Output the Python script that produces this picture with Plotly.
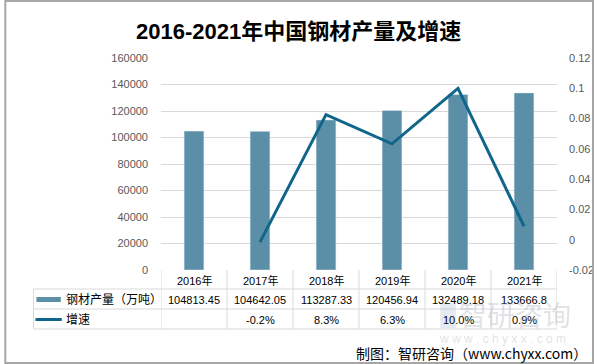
import plotly.graph_objects as go

# ---- data ----
years = ["2016年", "2017年", "2018年", "2019年", "2020年", "2021年"]
output = [104813.45, 104642.05, 113287.33, 120456.94, 132489.18, 133666.8]
output_text = ["104813.45", "104642.05", "113287.33", "120456.94", "132489.18", "133666.8"]
growth = [None, -0.0016, 0.0826, 0.0633, 0.0999, 0.0089]
growth_text = ["", "-0.2%", "8.3%", "6.3%", "10.0%", "0.9%"]
y2_ticks = [-0.02, 0, 0.02, 0.04, 0.06, 0.08, 0.10, 0.12]
y2_ticktext = ["-0.02", "0", "0.02", "0.04", "0.06", "0.08", "0.1", "0.12"]

W, H = 606, 364
L, R, T, B = 161, 568, 58, 270

BAR_C = "#5B8FA7"
LINE_C = "#10668A"
GRID_C = "#D9D9D9"
FONT = "Liberation Sans, Noto Sans CJK SC, sans-serif"


def px(x):
    return (x - L) / (R - L)


def py(y):
    return (B - y) / (B - T)


fig = go.Figure()
fig.add_trace(go.Bar(x=years, y=output, marker_color=BAR_C, width=0.3,
                     name="钢材产量（万吨）", yaxis="y"))
fig.add_trace(go.Scatter(x=years, y=growth, mode="lines", name="增速",
                         line=dict(color=LINE_C, width=3), yaxis="y2"))

shapes = []
ann = []

# table grid
line_style = dict(color=GRID_C, width=1)
for yy in [289, 309, 329]:
    shapes.append(dict(type="line", xref="paper", yref="paper",
                       x0=px(30), x1=px(R), y0=py(yy), y1=py(yy), line=line_style))
shapes.append(dict(type="line", xref="paper", yref="paper",
                   x0=px(30), x1=px(30), y0=py(289), y1=py(329), line=line_style))
for k in range(len(years) + 1):
    shapes.append(dict(type="line", xref="x", yref="paper",
                       x0=k - 0.5, x1=k - 0.5, y0=py(B), y1=py(329), line=line_style))

# legend keys in table
shapes.append(dict(type="rect", xref="paper", yref="paper",
                   x0=px(33), x1=px(58), y0=py(302), y1=py(297),
                   fillcolor=BAR_C, line=dict(width=0)))
shapes.append(dict(type="line", xref="paper", yref="paper",
                   x0=px(32), x1=px(59), y0=py(319.5), y1=py(319.5),
                   line=dict(color=LINE_C, width=3)))
ann.append(dict(text="钢材产量（万吨）", xref="paper", yref="paper", x=px(61), y=py(299.5),
                xanchor="left", yanchor="middle", showarrow=False,
                font=dict(size=12, color="#000000", family=FONT)))
ann.append(dict(text="增速", xref="paper", yref="paper", x=px(61), y=py(319.5),
                xanchor="left", yanchor="middle", showarrow=False,
                font=dict(size=12, color="#000000", family=FONT)))

for i, yr in enumerate(years):
    ann.append(dict(text=yr, xref="x", yref="paper", x=yr, y=py(280),
                    xanchor="center", yanchor="middle", showarrow=False,
                    font=dict(size=11, color="#000000", family=FONT)))
    ann.append(dict(text=output_text[i], xref="x", yref="paper", x=yr, y=py(299.5),
                    xanchor="center", yanchor="middle", showarrow=False,
                    font=dict(size=11, color="#000000", family=FONT)))
    if growth_text[i]:
        ann.append(dict(text=growth_text[i], xref="x", yref="paper", x=yr, y=py(319.5),
                        xanchor="center", yanchor="middle", showarrow=False,
                        font=dict(size=11, color="#000000", family=FONT)))

# watermark
shapes.append(dict(type="rect", xref="paper", yref="paper",
                   x0=px(448), x1=px(464), y0=py(328), y1=py(303),
                   fillcolor="rgba(120,150,185,0.20)", line=dict(width=0)))
ann.append(dict(text="智研咨询", xref="paper", yref="paper", x=px(525), y=py(314),
                xanchor="center", yanchor="middle", showarrow=False,
                font=dict(size=28, color="rgba(150,158,168,0.30)", family="Noto Sans CJK SC")))
ann.append(dict(text="w w w . c h y x x . c o m", xref="paper", yref="paper", x=px(512), y=py(339),
                xanchor="center", yanchor="middle", showarrow=False,
                font=dict(size=12, color="rgba(150,158,168,0.30)", family=FONT)))

# source
ann.append(dict(text="制图：智研咨询（www.chyxx.com）", xref="paper", yref="paper",
                x=px(601), y=py(353), xanchor="right", yanchor="middle", showarrow=False,
                font=dict(size=14, color="#000000", family="Noto Sans CJK SC, Liberation Sans")))

# title
ann.append(dict(text="<b>2016-2021年中国钢材产量及增速</b>", xref="paper", yref="paper",
                x=px(302), y=py(32), xanchor="center", yanchor="middle", showarrow=False,
                font=dict(size=22, color="#000000", family="Liberation Sans, Noto Sans CJK SC")))

# outer border
shapes.append(dict(type="rect", xref="paper", yref="paper",
                   x0=px(1), x1=px(W - 1), y0=py(1), y1=py(H - 1),
                   line=dict(color="#A6A6A6", width=2), fillcolor="rgba(0,0,0,0)"))

fig.update_layout(
    width=W, height=H,
    margin=dict(l=L, r=W - R, t=T, b=H - B, pad=0),
    paper_bgcolor="white", plot_bgcolor="white",
    showlegend=False,
    bargap=0.7,
    font=dict(family=FONT, color="#595959", size=11),
    xaxis=dict(type="category", range=[-0.5, 5.5], showticklabels=False,
               showgrid=False, zeroline=False, showline=False, ticks=""),
    yaxis=dict(range=[0, 160000], dtick=20000, showgrid=True, gridcolor=GRID_C,
               gridwidth=1, zeroline=False, showline=False, ticks="",
               tickfont=dict(size=11, color="#595959"), ticklabelstandoff=12,
               tickformat="d"),
    yaxis2=dict(range=[-0.02, 0.12], overlaying="y", side="right",
                tickvals=y2_ticks, ticktext=y2_ticktext, showgrid=False,
                zeroline=False, showline=False, ticks="",
                tickfont=dict(size=11, color="#595959"), ticklabelstandoff=11),
    shapes=shapes,
    annotations=ann,
)

fig.write_html("out.html", config={"displayModeBar": False},
               post_script="document.body.style.margin='0';document.body.style.overflow='hidden';")
